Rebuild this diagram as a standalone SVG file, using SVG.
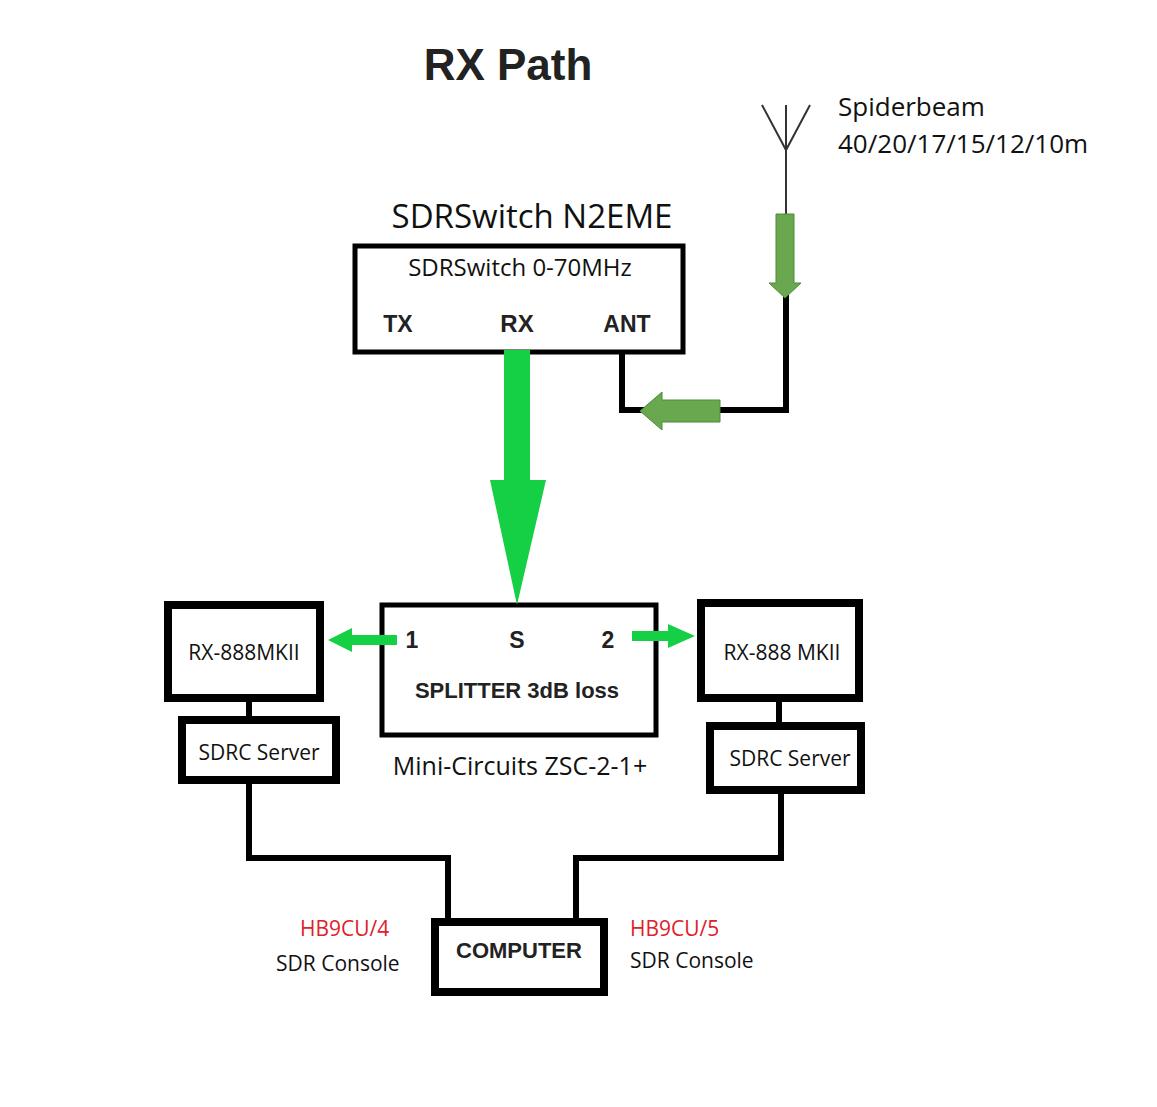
<svg xmlns="http://www.w3.org/2000/svg" width="1157" height="1107" viewBox="0 0 1157 1107">
<style>
.box{fill:#fff;stroke:#000;stroke-width:8}
.thin{fill:#fff;stroke:#000;stroke-width:5}
.w{fill:none;stroke:#000;stroke-width:6}
.t{font-family:"Open Sans","Noto Sans",sans-serif;fill:#111}
.b{font-family:"Liberation Sans",Arial,sans-serif;font-weight:bold;fill:#222}
.r{font-family:"Open Sans","Noto Sans",sans-serif;fill:#e0202a}
.g{fill:#15cf45}
.og{fill:#6aa84f;stroke:#4e8a38;stroke-width:1}
</style>
<rect width="1157" height="1107" fill="#fff"/>
<text x="508" y="80" class="b" font-size="44" text-anchor="middle" fill="#111">RX Path</text>
<g id="antenna">
<path d="M762 105 L786 150 L810 105 M786 105 V150 M786 150 V215" stroke="#333" stroke-width="2" fill="none"/>
<text x="838" y="116" class="t" font-size="26">Spiderbeam</text>
<text x="838" y="153" class="t" font-size="26">40/20/17/15/12/10m</text>
</g>
<g id="sdrswitch">
<text x="532" y="228" class="t" font-size="33" text-anchor="middle">SDRSwitch N2EME</text>
<rect class="thin" x="355" y="246" width="328" height="106"/>
<text x="520" y="276" class="t" font-size="24" text-anchor="middle">SDRSwitch 0-70MHz</text>
<text x="398" y="332" class="b" font-size="23" text-anchor="middle" fill="#333">TX</text>
<text x="517" y="332" class="b" font-size="24" text-anchor="middle" fill="#000">RX</text>
<text x="627" y="332" class="b" font-size="23" text-anchor="middle" fill="#333">ANT</text>
</g>
<g id="splitter">
<rect class="thin" x="382" y="605" width="274" height="130"/>
<text x="412" y="648" class="b" font-size="23" text-anchor="middle">1</text>
<text x="517" y="648" class="b" font-size="23" text-anchor="middle">S</text>
<text x="608" y="648" class="b" font-size="23" text-anchor="middle">2</text>
<text x="517" y="698" class="b" font-size="22" text-anchor="middle">SPLITTER 3dB loss</text>
<text x="520" y="775" class="t" font-size="25" text-anchor="middle">Mini-Circuits ZSC-2-1+</text>
</g>
<g id="connectors">
<path class="w" d="M786 295 V410 H622 V352"/>
<path class="og" d="M776 214 H794 V283 H801 L785 298 L769 283 H776 Z"/>
<path class="og" d="M720 400 V422 H662 V430 L640 411 L662 392 V400 Z"/>
<path class="g" d="M504 350 H530 V480 H546 L517 605 L490 480 H504 Z"/>
<path class="g" d="M397 635 V645 H352 V652 L328 640 L352 628 V635 Z"/>
<path class="g" d="M632 631 H668 V624 L695 636 L668 648 V641 H632 Z"/>
<path class="w" d="M249 700 V720 M249 782 V858 H448 V920"/>
<path class="w" d="M779 700 V725 M781 792 V858 H576 V920"/>
</g>
<g id="rx1"><rect class="box" x="168" y="605" width="152" height="93"/><text x="244" y="660" class="t" font-size="21" text-anchor="middle">RX-888MKII</text></g>
<g id="srv1"><rect class="box" x="182" y="720" width="154" height="60"/><text x="259" y="760" class="t" font-size="21" text-anchor="middle">SDRC Server</text></g>
<g id="rx2"><rect class="box" x="701" y="603" width="158" height="95"/><text x="782" y="660" class="t" font-size="21" text-anchor="middle">RX-888 MKII</text></g>
<g id="srv2"><rect class="box" x="710" y="726" width="151" height="64"/><text x="790" y="766" class="t" font-size="21" text-anchor="middle">SDRC Server</text></g>
<g id="computer"><rect class="box" x="435" y="922" width="169" height="70"/><text x="519" y="958" class="b" font-size="22" text-anchor="middle">COMPUTER</text></g>
<g id="labels">
<text x="300" y="936" class="r" font-size="21">HB9CU/4</text>
<text x="276" y="971" class="t" font-size="21">SDR Console</text>
<text x="630" y="936" class="r" font-size="21">HB9CU/5</text>
<text x="630" y="968" class="t" font-size="21">SDR Console</text>
</g>
</svg>
